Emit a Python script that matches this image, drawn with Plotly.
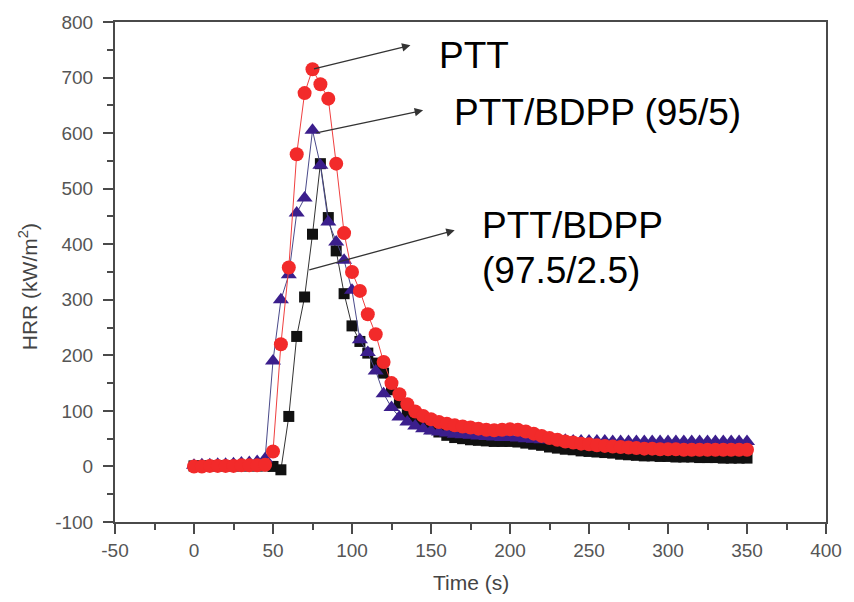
import plotly.graph_objects as go

# Sampling times (s)
time_s = [0, 5, 10, 15, 20, 25, 30, 35, 40, 45,
          50, 55, 60, 65, 70, 75, 80, 85, 90, 95,
          100, 105, 110, 115, 120, 125, 130, 135, 140, 145,
          150, 155, 160, 165, 170, 175, 180, 185, 190, 195,
          200, 205, 210, 215, 220, 225, 230, 235, 240, 245,
          250, 255, 260, 265, 270, 275, 280, 285, 290, 295,
          300, 305, 310, 315, 320, 325, 330, 335, 340, 345, 350]

# Heat release rate (kW/m^2)
hrr_ptt = [0, 0, 1, 1, 1, 1, 2, 2, 2, 3,
           27, 220, 358, 562, 672, 715, 688, 662, 545, 420,
           350, 316, 274, 238, 188, 150, 130, 112, 99, 91,
           85, 80, 77, 74, 72, 70, 68, 66, 65, 66,
           67, 66, 63, 59, 55, 51, 48, 45, 43, 41,
           40, 38, 37, 36, 35, 34, 33, 32, 32, 31,
           31, 31, 30, 30, 30, 30, 30, 30, 30, 30, 30]

hrr_95_5 = [2, 3, 3, 4, 4, 5, 6, 7, 9, 14,
            190, 300, 345, 456, 483, 605, 542, 440, 404, 371,
            317, 228, 205, 172, 131, 106, 89, 80, 73, 68,
            64, 62, 60, 58, 57, 56, 55, 54, 53, 52,
            52, 51, 50, 49, 48, 48, 47, 47, 46, 46,
            46, 46, 46, 45, 45, 45, 45, 45, 45, 45,
            45, 45, 45, 45, 45, 45, 45, 45, 45, 45, 45]

hrr_97_5 = [1, 1, 1, 1, 1, 1, 1, 1, 1, 1,
            0, -6, 90, 234, 305, 418, 545, 448, 388, 311,
            253, 225, 204, 186, 168, 138, 114, 97, 85, 76,
            68, 62, 56, 52, 50, 48, 47, 46, 45, 45,
            45, 44, 42, 40, 38, 35, 33, 31, 30, 28,
            27, 26, 25, 24, 22, 21, 20, 19, 19, 18,
            18, 17, 17, 17, 16, 16, 16, 15, 15, 15, 15]

x_ticks = [-50, 0, 50, 100, 150, 200, 250, 300, 350, 400]
y_ticks = [-100, 0, 100, 200, 300, 400, 500, 600, 700, 800]

FONT = "Liberation Sans, Arial, sans-serif"
AXIS_COLOR = "#4a4a4a"
TICK_COLOR = "#555555"
LABEL_FONT = dict(family=FONT, size=37, color="#000000")

fig = go.Figure()

# Drawn back to front: black squares, purple triangles, red circles
fig.add_trace(go.Scatter(
    x=time_s, y=hrr_97_5, mode="lines+markers", name="PTT/BDPP (97.5/2.5)",
    line=dict(color="#333333", width=1),
    marker=dict(symbol="square", size=11, color="#111111"),
))
fig.add_trace(go.Scatter(
    x=time_s, y=hrr_95_5, mode="lines+markers", name="PTT/BDPP (95/5)",
    line=dict(color="#4a4a8a", width=1),
    marker=dict(symbol="triangle-up", size=14, color="#3b1e8c"),
))
fig.add_trace(go.Scatter(
    x=time_s, y=hrr_ptt, mode="lines+markers", name="PTT",
    line=dict(color="#f04040", width=1),
    marker=dict(symbol="circle", size=14, color="#f22a2a"),
))

# Peaks the label arrows start from
i_ptt = hrr_ptt.index(max(hrr_ptt))
i_95 = hrr_95_5.index(max(hrr_95_5))

arrow_style = dict(showarrow=True, arrowhead=2, arrowsize=1.3, arrowwidth=1.3,
                   arrowcolor="#333333", axref="x", ayref="y", text="",
                   standoff=0, startstandoff=0)

annotations = [
    dict(x=137, y=758, ax=time_s[i_ptt], ay=hrr_ptt[i_ptt], **arrow_style),
    dict(x=145, y=641, ax=time_s[i_95] + 1.5, ay=hrr_95_5[i_95] - 5, **arrow_style),
    dict(x=165, y=425, ax=72, ay=353, **arrow_style),
    dict(x=153.5, y=739, text="PTT", showarrow=False, xanchor="left",
         yanchor="middle", font=LABEL_FONT),
    dict(x=163, y=637, text="PTT/BDPP (95/5)", showarrow=False, xanchor="left",
         yanchor="middle", font=LABEL_FONT),
    dict(x=181, y=433, text="PTT/BDPP", showarrow=False, xanchor="left",
         yanchor="middle", font=LABEL_FONT),
    dict(x=181, y=353, text="(97.5/2.5)", showarrow=False, xanchor="left",
         yanchor="middle", font=LABEL_FONT),
    # axis titles
    dict(x=0.5, y=-0.121, xref="paper", yref="paper", text="Time (s)",
         showarrow=False, xanchor="center", yanchor="middle",
         font=dict(family=FONT, size=21, color="#444444")),
    dict(x=-0.122, y=0.47, xref="paper", yref="paper",
         text="HRR (kW/m<sup>2</sup>)", textangle=-90,
         showarrow=False, xanchor="center", yanchor="middle",
         font=dict(family=FONT, size=21, color="#444444")),
]

axis_common = dict(
    showline=True, linecolor=AXIS_COLOR, linewidth=2, mirror=True,
    ticks="outside", ticklen=10, tickwidth=1.5, tickcolor=AXIS_COLOR,
    showgrid=False, zeroline=False,
    tickfont=dict(family=FONT, size=19, color=TICK_COLOR),
)

fig.update_xaxes(range=[-50, 400], tickmode="array", tickvals=x_ticks,
                 ticktext=[str(v) for v in x_ticks],
                 minor=dict(dtick=25, ticks="outside", ticklen=6,
                            tickwidth=1.5, tickcolor=AXIS_COLOR),
                 **axis_common)
fig.update_yaxes(range=[-100, 800], tickmode="array", tickvals=y_ticks,
                 ticktext=[str(v) for v in y_ticks],
                 ticklabelstandoff=6,
                 minor=dict(dtick=50, ticks="outside", ticklen=6,
                            tickwidth=1.5, tickcolor=AXIS_COLOR),
                 **axis_common)

fig.update_layout(
    width=854, height=602,
    margin=dict(l=115, r=20, t=18, b=80),
    paper_bgcolor="white", plot_bgcolor="white",
    showlegend=False,
    annotations=annotations,
    font=dict(family=FONT),
)

fig.write_html("out.html")
